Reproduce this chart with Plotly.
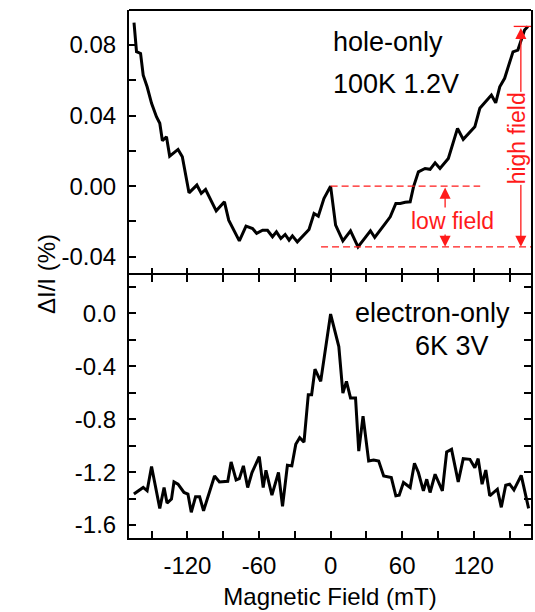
import plotly.graph_objects as go

# ---- data ----
hole_x = [-164.8, -162.7, -159.3, -157.1, -153.8, -150.1, -146.0, -143.2, -141.0, -137.6,
          -134.9, -127.9, -124.3, -120.9, -118.7, -112.1, -108.4, -104.8, -95.9, -89.0,
          -85.4, -76.5, -70.9, -65.4, -62.0, -57.0, -52.9, -48.7, -45.4, -41.7,
          -38.1, -34.8, -32.0, -27.9, -18.1, -13.9, -10.3, -5.6, 0.0, 4.2,
          10.3, 16.7, 23.0, 33.4, 37.0, 45.9, 50.0, 54.7, 58.4, 62.5,
          66.7, 69.5, 73.6, 79.2, 83.4, 87.6, 91.7, 98.7, 101.4, 106.4,
          111.2, 120.9, 125.1, 134.8, 138.4, 141.8, 145.9, 152.9, 157.0, 162.6, 165.4]
hole_y = [0.0926, 0.0762, 0.0752, 0.0629, 0.0563, 0.0469, 0.0393, 0.0356, 0.0257, 0.0280,
          0.0170, 0.0208, 0.0166, 0.0053, -0.0038, 0.0006, -0.0041, -0.0019, -0.0140, -0.0089,
          -0.0193, -0.0310, -0.0227, -0.0240, -0.0268, -0.0250, -0.0250, -0.0287, -0.0259, -0.0297,
          -0.0274, -0.0306, -0.0282, -0.0316, -0.0246, -0.0155, -0.0170, -0.0070, 0.0000, -0.0221,
          -0.0310, -0.0253, -0.0344, -0.0253, -0.0291, -0.0211, -0.0174, -0.0098, -0.0098, -0.0092,
          -0.0089, -0.0004, 0.0081, 0.0100, 0.0095, 0.0132, 0.0100, 0.0157, 0.0214, 0.0327,
          0.0265, 0.0336, 0.0441, 0.0516, 0.0472, 0.0563, 0.0611, 0.0761, 0.0771, 0.0885, 0.0905]

elec_x = [-164.9, -157.1, -153.8, -150.1, -143.2, -139.6, -137.1, -133.4, -131.3, -127.9,
          -122.9, -119.6, -116.8, -113.2, -109.8, -106.5, -97.3, -93.2, -86.2, -83.4,
          -79.2, -76.5, -73.1, -69.5, -65.9, -59.8, -56.5, -54.2, -49.2, -43.7,
          -40.3, -36.2, -32.5, -29.2, -25.9, -22.3, -18.7, -15.9, -13.1, -8.3,
          0.0, 6.9, 10.3, 13.3, 16.7, 20.9, 23.6, 27.2, 31.9, 36.1,
          40.3, 44.5, 50.9, 54.7, 57.5, 61.1, 66.7, 70.3, 73.6, 77.8,
          80.6, 83.4, 87.6, 93.7, 97.3, 101.4, 107.0, 111.2, 116.8, 120.9,
          123.7, 127.0, 130.1, 133.4, 139.8, 143.1, 146.8, 150.1, 153.7, 159.8, 166.0]
elec_y = [-1.366, -1.316, -1.341, -1.158, -1.474, -1.316, -1.434, -1.404, -1.274, -1.291,
          -1.354, -1.366, -1.504, -1.386, -1.386, -1.492, -1.229, -1.274, -1.269, -1.123,
          -1.259, -1.249, -1.153, -1.316, -1.203, -1.083, -1.316, -1.186, -1.374, -1.203,
          -1.459, -1.148, -1.153, -0.990, -0.940, -0.973, -0.614, -0.614, -0.421, -0.514,
          -0.005, -0.251, -0.602, -0.514, -0.639, -0.639, -1.041, -0.777, -1.116, -1.108,
          -1.116, -1.229, -1.241, -1.379, -1.374, -1.278, -1.316, -1.133, -1.203, -1.341,
          -1.254, -1.354, -1.216, -1.341, -1.048, -1.028, -1.274, -1.098, -1.103, -1.166,
          -1.098, -1.291, -1.184, -1.379, -1.329, -1.466, -1.299, -1.291, -1.334, -1.224, -1.474]

x_ticks = [-120, -60, 0, 60, 120]
top_ticks = [0.08, 0.04, 0.00, -0.04]
bot_ticks = [0.0, -0.4, -0.8, -1.2, -1.6]

# annotation levels derived from data
peak_y = hole_y[hole_x.index(0.0)]
dip_y = min(hole_y)
end_y = hole_y[-1]
low_arrow_x = 96
high_arrow_x = 159.5

FONT = "Liberation Sans, Arial, Helvetica, sans-serif"
RED = "#ff1a1a"
TICK_SIZE = 24

fig = go.Figure()
fig.add_trace(go.Scatter(x=elec_x, y=elec_y, mode="lines", xaxis="x", yaxis="y",
                         line=dict(color="black", width=3), showlegend=False))
fig.add_trace(go.Scatter(x=hole_x, y=hole_y, mode="lines", xaxis="x2", yaxis="y2",
                         line=dict(color="black", width=3), showlegend=False))

split = 0.498
common_x = dict(range=[-169, 168], showgrid=False, zeroline=False,
                linecolor="black", linewidth=2, ticks="inside", ticklen=7, tickwidth=1.5,
                tickcolor="black", tickvals=x_ticks,
                minor=dict(dtick=30, tick0=0, ticks="inside", ticklen=7, tickwidth=1.5,
                           tickcolor="black", showgrid=False))
fig.update_layout(
    width=535, height=612,
    margin=dict(l=129, r=2, t=10, b=74),
    paper_bgcolor="white", plot_bgcolor="white",
    font=dict(family=FONT, color="black"),
    xaxis=dict(**common_x, anchor="y", showline=True, mirror="ticks",
               ticktext=[str(v) for v in x_ticks], tickfont=dict(size=TICK_SIZE),
               ticklabelstandoff=5,
               title=dict(text="Magnetic Field (mT)", font=dict(size=24), standoff=10)),
    xaxis2=dict(**common_x, anchor="y2", matches="x", showline=False, showticklabels=False),
    yaxis=dict(domain=[0, split], range=[-1.698, 0.29], showgrid=False, zeroline=False,
               showline=True, linecolor="black", linewidth=2, mirror="ticks",
               ticks="inside", ticklen=7, tickwidth=1.5, tickcolor="black",
               tickvals=bot_ticks, ticktext=["%.1f" % v for v in bot_ticks],
               tickfont=dict(size=TICK_SIZE), ticklabelstandoff=6,
               minor=dict(dtick=0.2, tick0=0, ticks="inside", ticklen=7, tickwidth=1.5,
                          tickcolor="black", showgrid=False)),
    yaxis2=dict(domain=[split, 1], range=[-0.0504, 0.0998], showgrid=False, zeroline=False,
                showline=True, linecolor="black", linewidth=2, mirror=True,
                ticks="inside", ticklen=7, tickwidth=1.5, tickcolor="black",
                tickvals=top_ticks, ticktext=["%.2f" % v for v in top_ticks],
                tickfont=dict(size=TICK_SIZE), ticklabelstandoff=6,
                minor=dict(dtick=0.02, tick0=0, ticks="inside", ticklen=7, tickwidth=1.5,
                           tickcolor="black", showgrid=False)),
)

# top border of the upper panel
fig.add_shape(type="line", xref="paper", yref="paper", x0=0, x1=1, y0=1, y1=1,
              line=dict(color="black", width=2))

# red dashed guide lines and short top line
fig.add_shape(type="line", xref="x2", yref="y2", x0=0, x1=125.4, y0=peak_y, y1=peak_y,
              line=dict(color=RED, width=1.3, dash="7px,4px"))
fig.add_shape(type="line", xref="x2", yref="y2", x0=-8, x1=168, y0=dip_y, y1=dip_y,
              line=dict(color=RED, width=1.3, dash="7px,4px"))
fig.add_shape(type="line", xref="x2", yref="y2", x0=153.5, x1=168, y0=end_y, y1=end_y,
              line=dict(color=RED, width=1.3))

ann = []
# double arrows
for xa, y_top, y_bot in [(low_arrow_x, peak_y, dip_y), (high_arrow_x, end_y, dip_y)]:
    ann.append(dict(x=xa, y=y_bot, ax=xa, ay=y_top, xref="x2", yref="y2", axref="x2", ayref="y2",
                    text="", showarrow=True, arrowhead=2, arrowsize=1.7, arrowwidth=1.3,
                    arrowcolor=RED, arrowside="end+start", standoff=0, startstandoff=0))
ann += [
    dict(x=102.4, y=-0.0198, xref="x2", yref="y2", text="low field", showarrow=False,
         font=dict(size=23, color=RED), bgcolor="white", borderpad=0),
    dict(x=156, y=0.0269, xref="x2", yref="y2", text="high field", showarrow=False,
         textangle=-90, font=dict(size=23, color=RED), bgcolor="white", borderpad=0),
    dict(x=0, y=0.0816, xref="x2", yref="y2", text="hole-only", showarrow=False,
         xanchor="left", font=dict(size=27)),
    dict(x=0, y=0.0576, xref="x2", yref="y2", text="100K 1.2V", showarrow=False,
         xanchor="left", font=dict(size=27)),
    dict(x=85.6, y=0.0, xref="x", yref="y", text="electron-only", showarrow=False,
         font=dict(size=27)),
    dict(x=101.7, y=-0.246, xref="x", yref="y", text="6K 3V", showarrow=False,
         font=dict(size=27)),
    dict(x=-0.245, y=0.5, xref="paper", yref="paper", text="ΔI/I (%)", showarrow=False,
         textangle=-90, font=dict(size=24)),
]
fig.update_layout(annotations=ann)

fig.write_html("out.html", config={"displayModeBar": False},
               post_script="document.body.style.margin='0';"
                           "document.body.style.overflow='hidden';")
